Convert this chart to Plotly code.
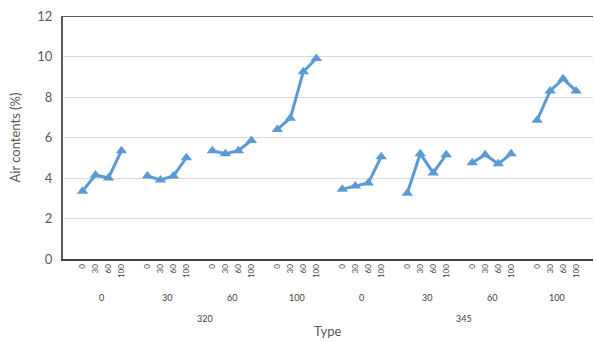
import plotly.graph_objects as go

# Category hierarchy: type -> group -> dosage
types = ["320", "345"]
groups = ["0", "30", "60", "100"]
dosages = ["0", "30", "60", "100"]

# Air content (%) per (type, group), one value per dosage
air_320 = [
    [3.35, 4.15, 4.0, 5.35],
    [4.1, 3.9, 4.1, 5.0],
    [5.35, 5.2, 5.35, 5.85],
    [6.4, 6.95, 9.25, 9.9],
]
air_345 = [
    [3.45, 3.6, 3.75, 5.05],
    [3.25, 5.2, 4.25, 5.15],
    [4.75, 5.15, 4.7, 5.2],
    [6.85, 8.3, 8.9, 8.3],
]

BLUE = "#5B9BD5"
FONT = "Lato"

# Lay the categories out on slots: one empty slot before each group
xs, ys, tickvals, ticktext = [], [], [], []
group_centers, type_spans = [], []
slot = 0
for t, data in zip(types, [air_320, air_345]):
    first = None
    for g, vals in zip(groups, data):
        xs.append(slot)
        ys.append(None)
        slot += 1
        start = slot
        for d, v in zip(dosages, vals):
            xs.append(slot)
            ys.append(v)
            tickvals.append(slot)
            ticktext.append(d)
            slot += 1
        if first is None:
            first = start
        group_centers.append(((start + slot - 1) / 2, g))
    type_spans.append(((first + slot - 1) / 2 + 0.4, t))

fig = go.Figure(
    go.Scatter(
        x=xs,
        y=ys,
        mode="lines+markers",
        connectgaps=False,
        line=dict(color=BLUE, width=3),
        marker=dict(symbol="triangle-up", size=10, color=BLUE),
        hoverinfo="skip",
    )
)

annotations = []
for cx, label in group_centers:
    annotations.append(dict(x=cx, y=-0.16, xref="x", yref="paper", text=label,
                            showarrow=False, yanchor="middle",
                            font=dict(size=9, color="#404040", family=FONT)))
for cx, label in type_spans:
    annotations.append(dict(x=cx, y=-0.243, xref="x", yref="paper", text=label,
                            showarrow=False, yanchor="middle",
                            font=dict(size=9, color="#404040", family=FONT)))
annotations.append(dict(x=0.5, y=-0.296, xref="paper", yref="paper", text="Type",
                        showarrow=False, yanchor="middle",
                        font=dict(size=13, color="#595959", family=FONT)))

fig.update_layout(
    width=594,
    height=341,
    margin=dict(l=63, r=1, t=16, b=82),
    paper_bgcolor="white",
    plot_bgcolor="white",
    showlegend=False,
    font=dict(family=FONT, color="#595959"),
    annotations=annotations,
    shapes=[dict(type="line", xref="paper", yref="y", x0=0, x1=1, y0=12, y1=12,
                 line=dict(color="#595959", width=2), layer="above")],
    xaxis=dict(
        range=[-0.5, 40.3],
        tickmode="array",
        tickvals=tickvals,
        ticktext=ticktext,
        tickangle=-90,
        tickfont=dict(size=8, color="#404040", family=FONT),
        showgrid=False,
        zeroline=False,
        showline=True,
        linecolor="#404040",
        linewidth=2,
        ticks="",
    ),
    yaxis=dict(
        range=[0, 12],
        dtick=2,
        tickfont=dict(size=13, color="#595959", family=FONT),
        showgrid=True,
        gridcolor="#D9D9D9",
        gridwidth=1,
        zeroline=False,
        showline=True,
        linecolor="#595959",
        linewidth=2,
        ticks="",
        ticklabelstandoff=6,
        title=dict(text="Air contents (%)", font=dict(size=13, color="#595959", family=FONT),
                   standoff=14),
    ),
)

fig.write_html("out.html")
